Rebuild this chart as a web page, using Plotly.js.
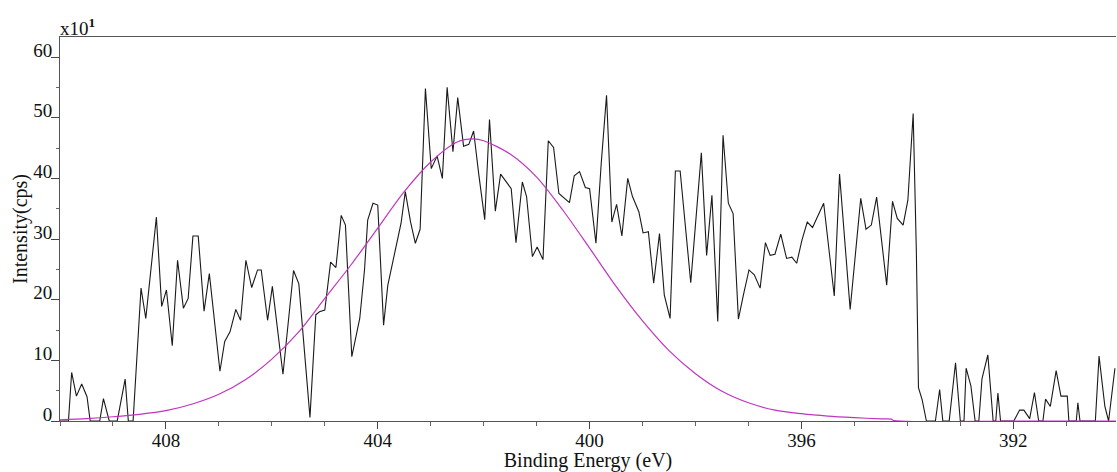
<!DOCTYPE html>
<html>
<head>
<meta charset="utf-8">
<script src="https://cdn.plot.ly/plotly-3.0.1.min.js"></script>
<style>
  html, body { margin: 0; padding: 0; background: #fff; }
  #chart { width: 1117px; height: 472px; }
</style>
</head>
<body>
<div id="chart"></div>
<script>
// Binding energy (eV) of measured spectrum vertices
var energy = [410.00, 409.84, 409.78, 409.69, 409.59, 409.49, 409.43, 409.25, 409.18, 409.07,
  408.92, 408.77, 408.71, 408.62, 408.47, 408.38, 408.18, 408.08, 407.99, 407.88,
  407.78, 407.67, 407.58, 407.49, 407.39, 407.28, 407.18, 406.98, 406.89, 406.79,
  406.68, 406.59, 406.49, 406.38, 406.27, 406.20, 406.08, 405.99, 405.79, 405.59,
  405.49, 405.28, 405.17, 405.10, 405.00, 404.89, 404.79, 404.69, 404.61, 404.49,
  404.34, 404.25, 404.19, 404.09, 404.00, 403.89, 403.81, 403.71, 403.56, 403.48,
  403.38, 403.29, 403.20, 403.10, 402.99, 402.88, 402.78, 402.69, 402.58, 402.49,
  402.38, 402.28, 402.19, 402.09, 401.98, 401.89, 401.78, 401.68, 401.57, 401.48,
  401.39, 401.27, 401.19, 401.08, 400.99, 400.88, 400.78, 400.68, 400.58, 400.48,
  400.38, 400.29, 400.19, 400.08, 400.00, 399.88, 399.78, 399.68, 399.58, 399.49,
  399.39, 399.28, 399.19, 399.07, 398.99, 398.89, 398.79, 398.68, 398.59, 398.48,
  398.38, 398.29, 398.09, 397.89, 397.79, 397.69, 397.58, 397.48, 397.38, 397.29,
  397.19, 397.09, 396.99, 396.89, 396.78, 396.68, 396.59, 396.50, 396.39, 396.28,
  396.18, 396.09, 395.99, 395.89, 395.79, 395.58, 395.38, 395.28, 395.08, 394.88,
  394.78, 394.68, 394.58, 394.39, 394.28, 394.19, 394.08, 393.99, 393.89, 393.83,
  393.79, 393.72, 393.64, 393.47, 393.39, 393.33, 393.21, 393.09, 393.00, 392.93,
  392.89, 392.80, 392.72, 392.65, 392.59, 392.48, 392.38, 392.33, 392.29, 392.24,
  391.99, 391.88, 391.80, 391.69, 391.60, 391.52, 391.44, 391.39, 391.30, 391.19,
  391.10, 390.98, 390.95, 390.81, 390.78, 390.74, 390.45, 390.38, 390.27, 390.20,
  390.08];
// Intensity (x10^1 cps)
var intensity = [0, 0, 8.0, 4.1, 6.1, 4.0, 0, 0, 3.7, 0,
  0, 6.9, 0, 0, 21.9, 16.9, 33.6, 18.9, 21.6, 12.4,
  26.5, 18.6, 20.2, 30.5, 30.5, 18.1, 24.3, 8.2, 13.1, 14.7,
  18.4, 16.6, 26.5, 22.0, 24.9, 24.9, 16.6, 22.2, 7.7, 24.8,
  22.6, 0.6, 17.5, 18.0, 18.3, 26.2, 25.3, 33.9, 32.3, 10.6,
  16.9, 24.9, 33.1, 35.9, 35.6, 15.8, 22.4, 26.5, 32.6, 37.8,
  32.8, 29.3, 31.6, 54.8, 41.6, 43.7, 40.0, 55.0, 44.4, 53.3,
  45.3, 45.6, 47.8, 40.5, 33.2, 49.7, 34.6, 40.7, 39.3, 38.3,
  29.4, 39.4, 37.0, 27.1, 28.7, 26.6, 46.2, 45.1, 37.5, 36.7,
  36.0, 40.4, 41.1, 38.5, 38.3, 29.3, 42.5, 53.7, 32.8, 35.7,
  30.5, 40.0, 37.0, 34.5, 31.0, 31.2, 22.7, 30.9, 20.8, 16.9,
  41.2, 41.2, 22.8, 44.2, 27.3, 37.2, 16.4, 47.1, 35.9, 34.2,
  16.8, 21.0, 24.9, 24.1, 21.9, 29.4, 27.3, 27.5, 30.8, 26.8,
  27.0, 26.0, 29.8, 32.8, 31.9, 35.9, 20.6, 40.7, 18.4, 36.7,
  31.6, 32.3, 36.9, 22.4, 36.2, 33.4, 32.3, 36.4, 50.7, 28.0,
  5.5, 3.5, 0, 0, 5.2, 0, 0, 9.6, 0, 0,
  8.7, 5.8, 0, 0, 7.0, 10.9, 0, 0, 4.6, 0,
  0, 1.8, 1.8, 0.4, 4.7, 0, 0, 3.6, 2.4, 8.3,
  4.1, 4.1, 0, 0, 3.0, 0, 0, 10.7, 2.4, 0,
  8.7];
// Fitted component
var fitEnergy = [410, 409.5, 409, 408.5, 408, 407.5, 407, 406.5, 406, 405.5,
  405, 404.5, 404, 403.5, 403, 402.5, 402.2, 402, 401.5, 401,
  400.5, 400, 399.5, 399, 398.5, 398, 397.5, 397, 396.5, 396,
  395.5, 395, 394.5, 394.3, 394.25, 392, 390];
var fitIntensity = [0.2, 0.4, 0.7, 1.1, 1.7, 2.8, 4.4, 6.8, 10.2, 14.6,
  20.2, 25.8, 31.8, 37.8, 42.7, 46.0, 46.5, 46.2, 44.0, 40.2,
  34.7, 28.5, 22.2, 16.5, 11.6, 7.8, 4.9, 3.0, 1.8, 1.2,
  0.8, 0.55, 0.35, 0.3, 0.05, 0, 0];

var serif = 'Liberation Serif, Times New Roman, serif';

var traces = [
  {
    x: energy, y: intensity, type: 'scatter', mode: 'lines',
    line: { color: '#1a1a1a', width: 1.1 },
    hoverinfo: 'x+y', showlegend: false
  },
  {
    x: fitEnergy, y: fitIntensity, type: 'scatter', mode: 'lines',
    line: { color: '#c035c0', width: 1.2, shape: 'spline', smoothing: 0.8 },
    hoverinfo: 'x+y', showlegend: false
  }
];

var layout = {
  width: 1117, height: 472,
  margin: { l: 60, r: 1, t: 37, b: 51 },
  paper_bgcolor: '#ffffff', plot_bgcolor: '#ffffff',
  font: { family: serif, size: 19, color: '#111' },
  showlegend: false,
  xaxis: {
    range: [410, 390.06],
    tickmode: 'linear', tick0: 392, dtick: 4,
    ticks: 'outside', ticklen: 7, tickwidth: 1, tickcolor: '#444',
    minor: { dtick: 1, ticks: 'outside', ticklen: 4, tickwidth: 1, tickcolor: '#666' },
    showline: true, linecolor: '#555', linewidth: 1, mirror: true,
    showgrid: false, zeroline: false,
    ticklabelstandoff: -5,
    tickfont: { family: serif, size: 19, color: '#111' },
    title: { text: 'Binding Energy (eV)', font: { family: serif, size: 20, color: '#111' }, standoff: 3 }
  },
  yaxis: {
    range: [0, 63.3],
    tickmode: 'linear', tick0: 0, dtick: 10,
    ticks: 'outside', ticklen: 8, tickwidth: 1, tickcolor: '#444',
    minor: { dtick: 5, ticks: 'outside', ticklen: 3, tickwidth: 1, tickcolor: '#666' },
    showline: true, linecolor: '#555', linewidth: 1,
    showgrid: false, zeroline: false,
    ticklabelshift: -7, ticklabelstandoff: -5,
    tickfont: { family: serif, size: 19, color: '#111' },
    title: { text: 'Intensity(cps)', font: { family: serif, size: 20, color: '#111' }, standoff: 0 }
  },
  annotations: [
    {
      xref: 'paper', yref: 'paper', x: 0, y: 1, xanchor: 'left', yanchor: 'bottom',
      text: 'x10<sup><b>1</b></sup>', showarrow: false, xshift: -2, yshift: -4,
      font: { family: serif, size: 19, color: '#111' }
    }
  ]
};

Plotly.newPlot('chart', traces, layout, { displayModeBar: false, staticPlot: true });
</script>
</body>
</html>
